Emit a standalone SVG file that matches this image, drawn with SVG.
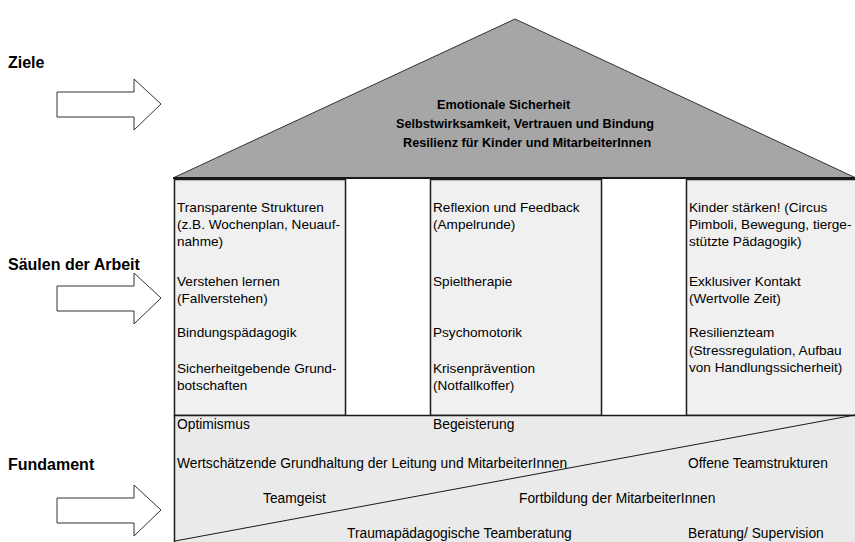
<svg xmlns="http://www.w3.org/2000/svg" width="855" height="542" viewBox="0 0 855 542">
<style>
text{font-family:"Liberation Sans",Arial,sans-serif;fill:#000}
.lbl{font-size:16px;font-weight:bold}
.roof{font-size:12.7px;font-weight:bold}
.t{font-size:13.6px}
.f{font-size:13.8px}
.arrow{fill:#fff;stroke:#333;stroke-width:1}
.pillar{fill:#f0f0f0;stroke:#1a1a1a;stroke-width:1.5}
</style>
<rect width="855" height="542" fill="#fff"/>
<g id="labels">
<text class="lbl" x="8" y="68">Ziele</text>
<text class="lbl" x="8" y="270">Säulen der Arbeit</text>
<text class="lbl" x="8" y="470">Fundament</text>
</g>
<g id="connectors">
<polygon class="arrow" points="57,92 134,92 134,79 161,104 134,130 134,117 57,117"/>
<polygon class="arrow" points="57,286 134,286 134,273 161,298 134,324 134,311 57,311"/>
<polygon class="arrow" points="57,498 134,498 134,485 161,510 134,536 134,523 57,523"/>
</g>
<g id="roof">
<polygon points="173,178 515,19 856,178" fill="#a6a6a6" stroke="#333" stroke-width="1"/>
<line x1="173" y1="178" x2="855" y2="178" stroke="#1a1a1a" stroke-width="2"/>
<text class="roof" x="437" y="109">Emotionale Sicherheit</text>
<text class="roof" x="396" y="128">Selbstwirksamkeit, Vertrauen und Bindung</text>
<text class="roof" x="403" y="147">Resilienz für Kinder und MitarbeiterInnen</text>
</g>
<g id="pillar1">
<rect class="pillar" x="174.5" y="179.5" width="171" height="236"/>
<text class="t"><tspan x="177" y="212">Transparente Strukturen</tspan><tspan x="177" y="229">(z.B. Wochenplan, Neuauf-</tspan><tspan x="177" y="246">nahme)</tspan><tspan x="177" y="286">Verstehen lernen</tspan><tspan x="177" y="303">(Fallverstehen)</tspan><tspan x="177" y="337">Bindungspädagogik</tspan><tspan x="177" y="373">Sicherheitgebende Grund-</tspan><tspan x="177" y="390">botschaften</tspan></text>
</g>
<g id="pillar2">
<rect class="pillar" x="430.5" y="179.5" width="171" height="236"/>
<text class="t"><tspan x="433" y="212">Reflexion und Feedback</tspan><tspan x="433" y="229">(Ampelrunde)</tspan><tspan x="433" y="286">Spieltherapie</tspan><tspan x="433" y="337">Psychomotorik</tspan><tspan x="433" y="373">Krisenprävention</tspan><tspan x="433" y="390">(Notfallkoffer)</tspan></text>
</g>
<g id="pillar3">
<rect class="pillar" x="686.5" y="179.5" width="172" height="236"/>
<text class="t"><tspan x="689" y="212">Kinder stärken! (Circus</tspan><tspan x="689" y="229">Pimboli, Bewegung, tierge-</tspan><tspan x="689" y="246">stützte Pädagogik)</tspan><tspan x="689" y="286">Exklusiver Kontakt</tspan><tspan x="689" y="303">(Wertvolle Zeit)</tspan><tspan x="689" y="337">Resilienzteam</tspan><tspan x="689" y="355">(Stressregulation, Aufbau</tspan><tspan x="689" y="372">von Handlungssicherheit)</tspan></text>
</g>
<g id="foundation">
<rect x="174.5" y="415.5" width="684" height="130" fill="#eaeaea" stroke="#1a1a1a" stroke-width="1.5"/>
<line x1="175" y1="541" x2="855" y2="415" stroke="#1a1a1a" stroke-width="1"/>
<text class="f" x="177" y="429">Optimismus</text>
<text class="f" x="433" y="429">Begeisterung</text>
<text class="f" x="177" y="468">Wertschätzende Grundhaltung der Leitung und MitarbeiterInnen</text>
<text class="f" x="688" y="468">Offene Teamstrukturen</text>
<text class="f" x="263" y="503">Teamgeist</text>
<text class="f" x="519" y="503">Fortbildung der MitarbeiterInnen</text>
<text class="f" x="347" y="538">Traumapädagogische Teamberatung</text>
<text class="f" x="688" y="538">Beratung/ Supervision</text>
</g>
</svg>
